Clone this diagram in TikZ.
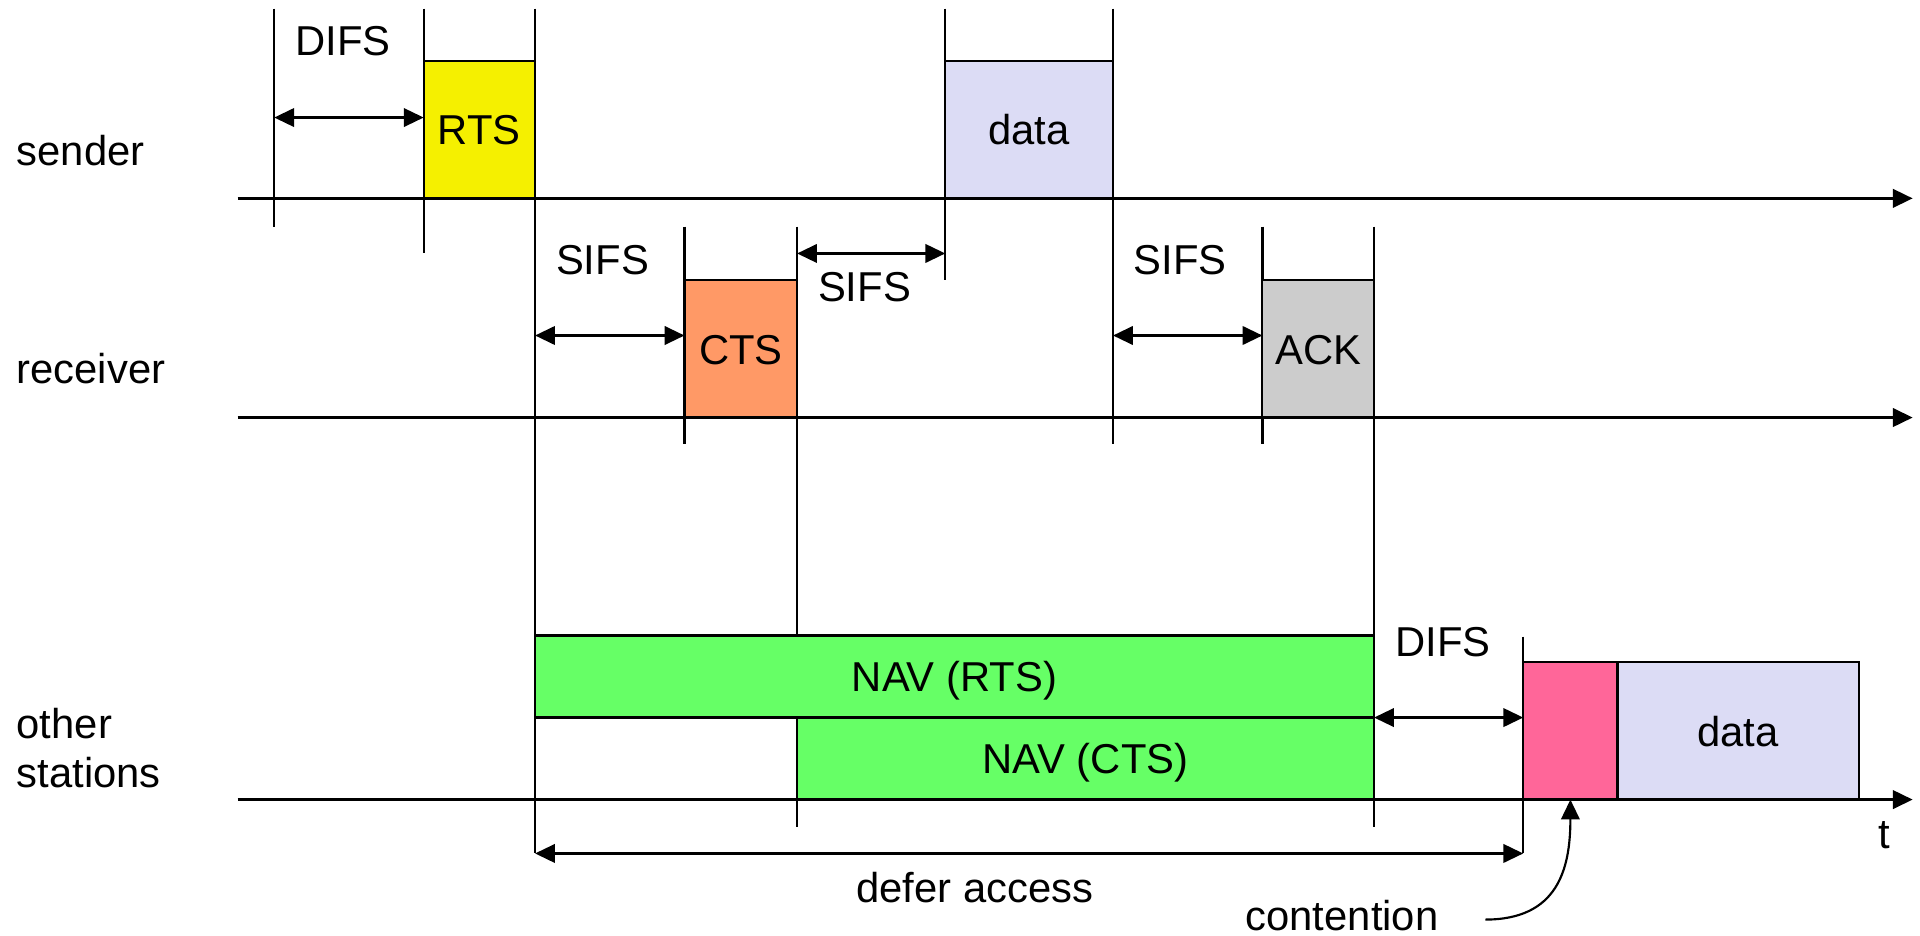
\documentclass[tikz,border=0pt]{standalone}
\usepackage{fontspec}
\setmainfont{Liberation Sans}
\usetikzlibrary{arrows.meta}
\definecolor{rtsyellow}{RGB}{245,240,0}
\definecolor{datablue}{RGB}{220,220,245}
\definecolor{ctsorange}{RGB}{255,153,102}
\definecolor{ackgray}{RGB}{204,204,204}
\definecolor{navgreen}{RGB}{102,255,102}
\definecolor{backpink}{RGB}{255,102,153}
\begin{document}
\begin{tikzpicture}[x=0.01cm, y=-0.01cm, line width=0.5pt,
  font=\fontsize{9.7}{11.4}\selectfont,
  frame/.style={draw, inner sep=0pt, outer sep=0pt, minimum height=1.12cm, text height=7pt, text depth=0pt},
  lbl/.style={inner sep=0pt, anchor=base},
  dim/.style={{Triangle[length=4.6pt, width=4.3pt]}-{Triangle[length=4.6pt, width=4.3pt]}},
  axis/.style={line width=0.6pt, -{Triangle[length=4.6pt, width=4.3pt]}}]
\useasboundingbox (0,0) rectangle (1568,764);

\foreach \x/\a/\b in {224/7/185, 346/7/207, 437/7/697, 772/7/229, 909/7/363,
  559/185/363, 651/185/675, 1031/185/363, 1122/185/675, 1244/520/697}
  \draw (\x,\a) -- (\x,\b);

\node[frame, fill=rtsyellow, minimum width=0.91cm] (rts) at (391.5,106) {RTS};
\node[frame, fill=datablue, minimum width=1.37cm] (data) at (840.5,106) {data};
\node[frame, fill=ctsorange, minimum width=0.92cm] (cts) at (605,285) {CTS};
\node[frame, fill=ackgray, minimum width=0.91cm] (ack) at (1076.5,285) {ACK};
\node[frame, fill=navgreen, minimum width=6.85cm, minimum height=0.67cm] (navrts) at (779.5,552.5) {NAV (RTS)};
\node[frame, fill=navgreen, minimum width=4.71cm, minimum height=0.67cm] (navcts) at (886.5,619.5) {NAV (CTS)};
\node[frame, fill=backpink, minimum width=0.77cm] (pink) at (1282.5,597) {};
\node[frame, fill=datablue, minimum width=1.97cm] (data2) at (1419.5,597) {data};

\draw[axis] (194,162) -- (1562,162);
\draw[axis] (194,341) -- (1562,341);
\draw[axis] (194,653) -- (1562,653);

\node[lbl, anchor=base west] (snd) at (12.8,135.3) {sender};
\node[lbl, anchor=base west] (rcv) at (12.8,313.5) {receiver};
\node[lbl, anchor=base west, align=left] (oth) at (12.8,643) {other\\stations};

\node[lbl] (difsA) at (280,45.5) {DIFS};
\node[lbl] (sifsA) at (492,224.3) {SIFS};
\node[lbl] (sifsB) at (706,246.4) {SIFS};
\node[lbl] (sifsC) at (964,224.3) {SIFS};
\node[lbl] (difsB) at (1178.5,536.3) {DIFS};
\node[lbl] (defer) at (796,737.2) {defer access};
\node[lbl] (cont) at (1096,760) {contention};
\node[lbl] (t) at (1539,693) {t};

\coordinate (d1) at (224,96);
\coordinate (s1) at (437,274);
\coordinate (s2) at (651,207);
\coordinate (s3) at (909,274);
\coordinate (df) at (437,697);
\coordinate (c0) at (1213,751);

\draw[dim] (d1) -- (d1 -| rts.west);
\draw[dim] (s1) -- (s1 -| cts.west);
\draw[dim] (s2) -- (s2 -| data.west);
\draw[dim] (s3) -- (s3 -| ack.west);
\draw[dim] (navrts.south east) -- (navrts.south east -| pink.west);
\draw[dim] (df) -- (df -| pink.west);
\draw[-{Triangle[length=4.6pt, width=4.3pt]}] (c0) .. controls (1272,751) and (1282.5,710) .. (pink.south);
\end{tikzpicture}
\end{document}
